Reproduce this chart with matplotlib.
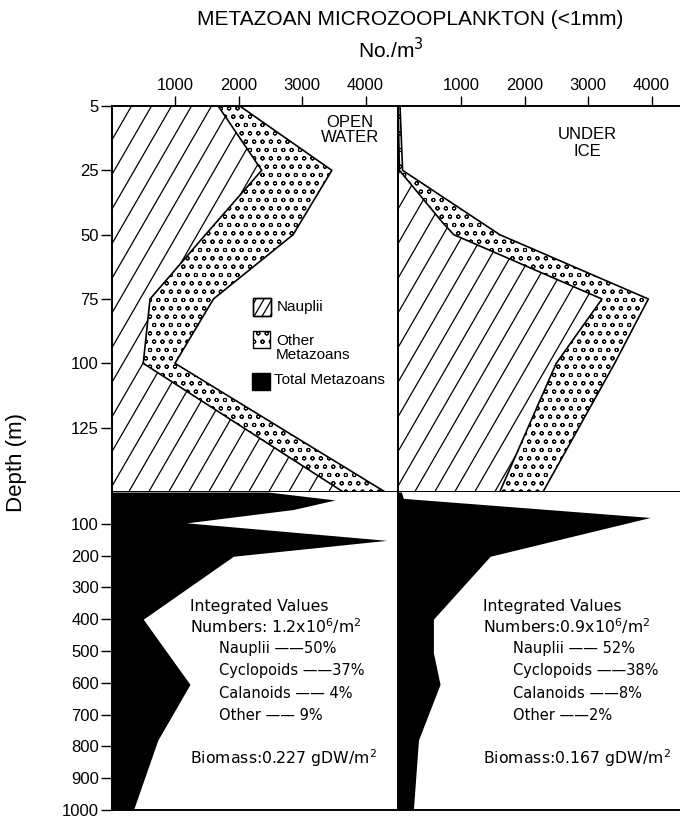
import numpy as np
import matplotlib
matplotlib.use("Agg")
import matplotlib.pyplot as plt
from matplotlib.collections import LineCollection
from matplotlib.patches import Rectangle

plt.rcParams['font.family'] = ['Liberation Sans', 'DejaVu Sans']
plt.rcParams['hatch.linewidth'] = 0.7

# ---------------- data ----------------
x_ticks = [1000, 2000, 3000, 4000]
upper_depth_ticks = [5, 25, 50, 75, 100, 125]
lower_depth_ticks = [100, 200, 300, 400, 500, 600, 700, 800, 900, 1000]

# Open water, upper 150 m (No./m3)
ow_naup_depth = [5, 25, 50, 75, 100, 150]
ow_naup = [1680, 2365, 1480, 607, 500, 3650]
ow_total_depth = [5, 25, 50, 75, 100, 150]
ow_total = [2020, 3470, 2860, 1605, 1000, 4310]

# Under ice, upper 150 m
ui_naup_depth = [5, 25, 45, 50, 75, 100, 150]
ui_naup = [10, 30, 700, 885, 3220, 2500, 1610]
ui_total_depth = [5, 25, 50, 75, 100, 150]
ui_total = [40, 80, 1610, 3950, 3420, 2290]

# Total metazoans 0-1000 m
ow_deep_depth = [0, 25, 55, 97, 152, 202, 400, 605, 780, 1000]
ow_deep_total = [2465, 3520, 2865, 1185, 4335, 1920, 500, 1236, 730, 345]
ui_deep_depth = [0, 20, 80, 202, 400, 505, 605, 780, 1000]
ui_deep_total = [60, 92, 3980, 1460, 565, 565, 670, 330, 250]

ow_text = ["Integrated Values", "Numbers: 1.2x10$^6$/m$^2$",
           "Nauplii ——50%", "Cyclopoids ——37%", "Calanoids —— 4%", "Other —— 9%",
           "Biomass:0.227 gDW/m$^2$"]
ui_text = ["Integrated Values", "Numbers:0.9x10$^6$/m$^2$",
           "Nauplii —— 52%", "Cyclopoids ——38%", "Calanoids ——8%", "Other ——2%",
           "Biomass:0.167 gDW/m$^2$"]

# ---------------- layout ----------------
W, H = 680, 818
fig = plt.figure(figsize=(W / 100, H / 100), dpi=100)

def fx(px):
    return px / W

def fy(py):
    return 1 - py / H

x0L, x0R, xR = 111.5, 397.5, 680
yT, yM, yB = 106, 492, 810
scale = 63.5 / 1000.0  # px per unit

ax_tl = fig.add_axes([fx(x0L), fy(yM), fx(x0R - x0L), (yM - yT) / H])
ax_tr = fig.add_axes([fx(x0R), fy(yM), fx(xR - x0R), (yM - yT) / H])
ax_bl = fig.add_axes([fx(x0L), fy(yB), fx(x0R - x0L), (yB - yM) / H])
ax_br = fig.add_axes([fx(x0R), fy(yB), fx(xR - x0R), (yB - yM) / H])


def fwd(d):
    d = np.asarray(d, dtype=float)
    return np.where(d < 25, 25 + (d - 25) * 25.0 / 20.0, d)


def inv(y):
    y = np.asarray(y, dtype=float)
    return np.where(y < 25, 25 + (y - 25) * 20.0 / 25.0, y)


def line_hatch(ax, clip_patch, spacing=20, angle=60, lw=0.9, z=2):
    bb = ax.get_position()
    Wp = bb.width * W
    Hp = bb.height * H
    dx = Hp / np.tan(np.radians(angle))
    segs = []
    x = -dx
    while x < Wp + spacing:
        segs.append([(x / Wp, 0), ((x + dx) / Wp, 1)])
        x += spacing
    lc = LineCollection(segs, colors='black', linewidths=lw,
                        transform=ax.transAxes, zorder=z)
    ax.add_collection(lc, autolim=False)
    lc.set_clip_path(clip_patch)


lw_line = 1.2
for ax, nd, nv, td, tv in [(ax_tl, ow_naup_depth, ow_naup, ow_total_depth, ow_total),
                           (ax_tr, ui_naup_depth, ui_naup, ui_total_depth, ui_total)]:
    ax.set_yscale('function', functions=(fwd, inv))
    # nauplii region
    naup_patch, = ax.fill([0] + list(nv) + [0], [nd[0]] + list(nd) + [nd[-1]],
                          facecolor='white', edgecolor='none', zorder=1)
    line_hatch(ax, naup_patch)
    # other metazoans (dotted)
    ax.fill(list(nv) + list(tv[::-1]), list(nd) + list(td[::-1]),
            facecolor='white', edgecolor='black', hatch='oo', lw=0, zorder=1.5)
    ax.plot(nv, nd, color='black', lw=lw_line, zorder=3)
    ax.plot(tv, td, color='black', lw=lw_line, zorder=3)

for ax, dd, dv in [(ax_bl, ow_deep_depth, ow_deep_total),
                   (ax_br, ui_deep_depth, ui_deep_total)]:
    ax.fill_betweenx(dd, 0, dv, color='black', lw=0)
    ax.set_ylim(1000, 0)
    ax.set_xticks([])

for ax in (ax_tl, ax_tr):
    ax.set_ylim(150, 5)
    ax.xaxis.tick_top()
    ax.set_xticks(x_ticks)
    ax.set_xticklabels([str(v) for v in x_ticks])
    ax.tick_params(axis='x', direction='out', length=7, width=1, pad=2, labelsize=12)

ax_tl.set_xlim(0, (x0R - x0L) / scale)
ax_bl.set_xlim(0, (x0R - x0L) / scale)
ax_tr.set_xlim(0, (xR - x0R) / scale)
ax_br.set_xlim(0, (xR - x0R) / scale)

ax_tl.set_yticks(upper_depth_ticks)
ax_tl.set_yticklabels([str(v) for v in upper_depth_ticks])
ax_bl.set_yticks(lower_depth_ticks)
ax_bl.set_yticklabels([str(v) for v in lower_depth_ticks])
for ax in (ax_tl, ax_bl):
    ax.tick_params(axis='y', direction='out', length=8, width=1, pad=1, labelsize=12)
ax_tr.set_yticks([])
ax_br.set_yticks([])
ax_tr.yaxis.set_minor_locator(matplotlib.ticker.NullLocator())
ax_tl.yaxis.set_minor_locator(matplotlib.ticker.NullLocator())

for ax in (ax_tl, ax_tr, ax_bl, ax_br):
    for s in ax.spines.values():
        s.set_linewidth(1.4)
ax_tr.spines['right'].set_visible(False)
ax_br.spines['right'].set_visible(False)
ax_bl.spines['top'].set_visible(False)
ax_br.spines['top'].set_visible(False)

# panel labels
ax_tl.text((350 - x0L) / (x0R - x0L), (yM - 130) / (yM - yT), "OPEN\nWATER",
           transform=ax_tl.transAxes, ha='center', va='center', fontsize=12,
           linespacing=1.05)
ax_tr.text((587 - x0R) / (xR - x0R), (yM - 143) / (yM - yT), "UNDER\nICE",
           transform=ax_tr.transAxes, ha='center', va='center', fontsize=12,
           linespacing=1.15)

# legend (manual)
def ax_xy(px, py):
    return (px - x0L) / (x0R - x0L), (yM - py) / (yM - yT)

bx, by = ax_xy(253, 316)
r1 = Rectangle((bx, by), 18 / (x0R - x0L), 18 / (yM - yT), transform=ax_tl.transAxes,
               facecolor='white', edgecolor='black', lw=1.0, zorder=4)
ax_tl.add_patch(r1)
line_hatch(ax_tl, r1, spacing=8, angle=60, lw=0.9, z=4.5)
r1b = Rectangle((bx, by), 18 / (x0R - x0L), 18 / (yM - yT), transform=ax_tl.transAxes,
                facecolor='none', edgecolor='black', lw=1.0, zorder=5)
ax_tl.add_patch(r1b)
bx, by = ax_xy(253, 348)
ax_tl.add_patch(Rectangle((bx, by), 17 / (x0R - x0L), 17 / (yM - yT),
                          transform=ax_tl.transAxes, facecolor='white',
                          edgecolor='black', hatch='oo', lw=1.0, zorder=4))
bx, by = ax_xy(252, 390)
ax_tl.add_patch(Rectangle((bx, by), 18 / (x0R - x0L), 17 / (yM - yT),
                          transform=ax_tl.transAxes, facecolor='black',
                          edgecolor='black', lw=1.0, zorder=4))
for txt, px, py in [("Nauplii", 277, 307), ("Other\nMetazoans", 276, 348),
                    ("Total Metazoans", 274, 380)]:
    tx, ty = ax_xy(px, py)
    ax_tl.text(tx, ty, txt, transform=ax_tl.transAxes, ha='left', va='center',
               fontsize=11, linespacing=1.05, zorder=5)

# integrated values text blocks
info_font = ['DejaVu Sans']
rows_y = [606, 626, 648, 670, 693, 715, 758]
for lines, xa, xb in [(ow_text, 190, 219), (ui_text, 483, 513)]:
    for i, (t, y) in enumerate(zip(lines, rows_y)):
        big = i in (0, 1, 6)
        fig.text(fx(xa if big else xb), fy(y), t, ha='left', va='center',
                 fontsize=11.3 if big else 10.5, family=info_font)

# titles
fig.text(fx(410), fy(25), "METAZOAN MICROZOOPLANKTON (<1mm)", ha='center',
         va='baseline', fontsize=15)
fig.text(fx(391), fy(58), "No./m$^3$", ha='center', va='baseline', fontsize=15)
fig.text(fx(17), fy(462), "Depth (m)", rotation=90, ha='center', va='center',
         fontsize=16)

fig.savefig("out.png", dpi=100)
